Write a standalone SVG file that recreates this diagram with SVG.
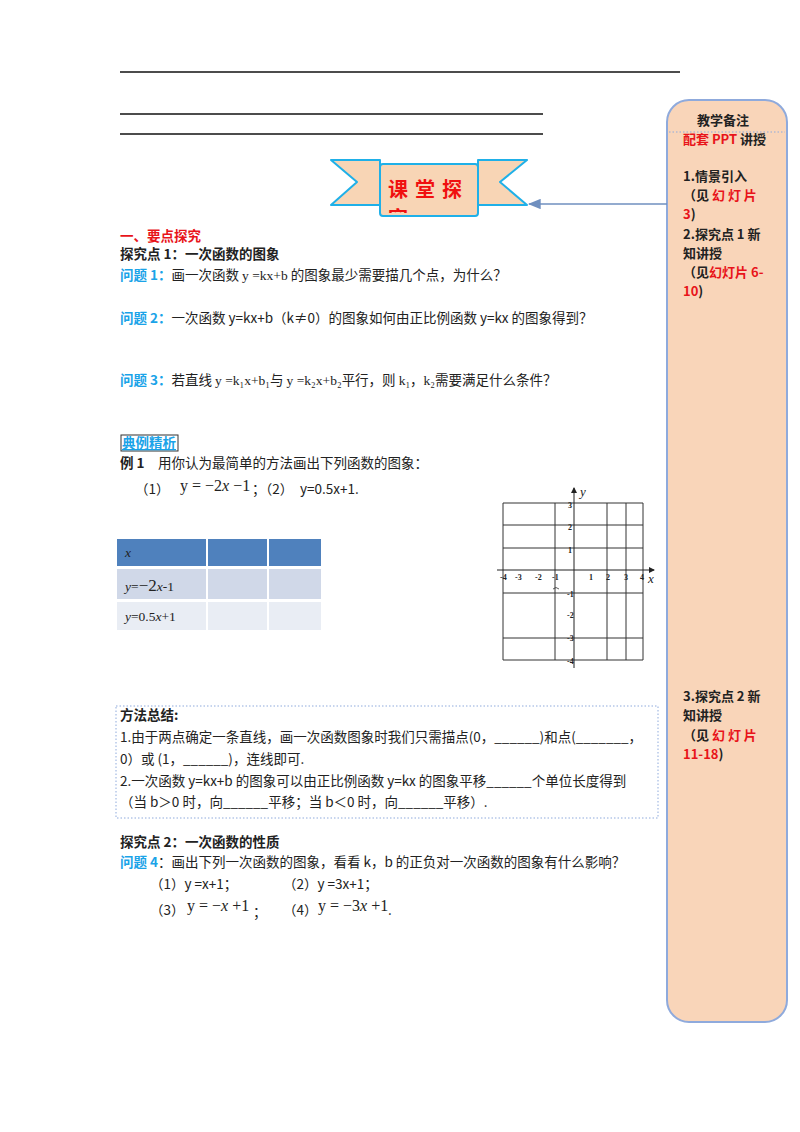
<svg xmlns="http://www.w3.org/2000/svg" width="800" height="1132" viewBox="0 0 800 1132">
<style>
text{font-family:"Noto Sans CJK SC","Liberation Sans",sans-serif;font-size:13.5px;fill:#222}
.b{font-weight:bold}
.blue{fill:#1aa3e8;font-weight:bold}
.red{fill:#e8141a}
.m{font-family:"Liberation Serif","Noto Sans CJK SC",serif}
.g{stroke:#333;stroke-width:1;fill:none}
.s{font-family:"Liberation Serif",serif;font-size:8px;font-weight:bold}
.sb{font-size:13px;font-weight:bold}
</style>
<defs>
<marker id="ah" markerWidth="10" markerHeight="8" refX="9" refY="4" orient="auto"><path d="M0,0 L10,4 L0,8z" fill="#6f8fbf"/></marker>
<marker id="ak" markerWidth="6" markerHeight="6" refX="5" refY="3" orient="auto"><path d="M0,0 L6,3 L0,6z" fill="#222"/></marker>
<clipPath id="cp"><rect x="381" y="165" width="96" height="48"/></clipPath>
</defs>
<g id="rules" stroke="#111" stroke-width="1.3">
<line x1="120" y1="72" x2="680" y2="72"/>
<line x1="120" y1="114" x2="543" y2="114"/>
<line x1="120" y1="134" x2="543" y2="134"/>
</g>
<g id="sidebar">
<rect x="667" y="100" width="120" height="922" rx="22" fill="#f9d5b9" stroke="#8faadc" stroke-width="2"/>
<line x1="669" y1="132" x2="785" y2="132" stroke="#8faadc" stroke-dasharray="1.5,2"/>
<text x="697" y="125" class="sb">教学备注</text>
<text x="683" y="144" class="sb"><tspan class="red">配套 PPT</tspan> 讲授</text>
<text x="683" y="181" class="sb">1.情景引入</text>
<text x="683" y="200" class="sb">（见 <tspan class="red">幻 灯 片</tspan></text>
<text x="683" y="219" class="sb"><tspan class="red">3</tspan>)</text>
<text x="683" y="239" class="sb">2.探究点 1 新</text>
<text x="683" y="258" class="sb">知讲授</text>
<text x="683" y="277" class="sb">（见<tspan class="red">幻灯片 6-</tspan></text>
<text x="683" y="296" class="sb"><tspan class="red">10</tspan>)</text>
<text x="683" y="701" class="sb">3.探究点 2 新</text>
<text x="683" y="720" class="sb">知讲授</text>
<text x="683" y="740" class="sb">（见 <tspan class="red">幻 灯 片</tspan></text>
<text x="683" y="759" class="sb"><tspan class="red">11-18</tspan>)</text>
</g>
<g id="banner">
<path d="M331,160 L380,160 L380,205 L331,205 L357,182z" fill="#f8d5b5" stroke="#1fb0e8" stroke-width="2" stroke-linejoin="round"/>
<path d="M527,160 L478,160 L478,205 L527,205 L500,182z" fill="#f8d5b5" stroke="#1fb0e8" stroke-width="2" stroke-linejoin="round"/>
<rect x="380" y="164" width="98" height="52" rx="3" fill="#f8d5b5" stroke="#1fb0e8" stroke-width="2"/>
<g clip-path="url(#cp)"><text x="388" y="197" style="font-size:20px;font-weight:bold;fill:#f01010;letter-spacing:7px">课堂探</text><text x="388" y="226" style="font-size:20px;font-weight:bold;fill:#f01010">究</text></g>
</g>
<g id="connectors"><line x1="667" y1="204" x2="529" y2="204" stroke="#6f8fbf" stroke-width="1.3" marker-end="url(#ah)"/></g>
<g id="main">
<text x="120" y="241" class="b red">一、要点探究</text>
<text x="120" y="259" class="b">探究点 1：一次函数的图象</text>
<text x="120" y="280"><tspan class="blue">问题 1：</tspan>画一次函数 <tspan class="m">y =kx+b</tspan> 的图象最少需要描几个点，为什么？</text>
<text x="120" y="323"><tspan class="blue">问题 2：</tspan>一次函数 y=kx+b（k≠0）的图象如何由正比例函数 y=kx 的图象得到？</text>
<text x="120" y="385"><tspan class="blue">问题 3：</tspan>若直线 <tspan class="m">y =k₁x+b₁</tspan>与 <tspan class="m">y =k₂x+b₂</tspan>平行，则 <tspan class="m">k₁，k₂</tspan>需要满足什么条件？</text>
<rect x="121" y="435" width="57" height="16" fill="none" stroke="#333"/>
<text x="122" y="448" style="fill:#1aa3e8;font-weight:bold;text-decoration:underline">典例精析</text>
<text x="120" y="468"><tspan class="b">例 1</tspan>　用你认为最简单的方法画出下列函数的图象：</text>
<text x="135" y="494">（1）</text>
<text x="180" y="491" class="m" style="font-size:16px">y = −2<tspan font-style="italic">x</tspan> −1</text>
<text x="252" y="494">；（2）　y=0.5x+1.</text>
</g>
<g id="table">
<rect x="117" y="539" width="89" height="27" fill="#4f81bd"/><rect x="208" y="539" width="59" height="27" fill="#4f81bd"/><rect x="269" y="539" width="52" height="27" fill="#4f81bd"/>
<rect x="117" y="569" width="89" height="30" fill="#d0d8e8"/><rect x="208" y="569" width="59" height="30" fill="#d0d8e8"/><rect x="269" y="569" width="52" height="30" fill="#d0d8e8"/>
<rect x="117" y="602" width="89" height="28" fill="#e9edf4"/><rect x="208" y="602" width="59" height="28" fill="#e9edf4"/><rect x="269" y="602" width="52" height="28" fill="#e9edf4"/>
<text x="125" y="557" class="m" font-style="italic" style="fill:#222">x</text>
<text x="125" y="591" class="m"><tspan font-style="italic">y</tspan>=<tspan style="font-size:17px">−2</tspan><tspan font-style="italic">x</tspan>-1</text>
<text x="125" y="621" class="m"><tspan font-style="italic">y</tspan>=0.5<tspan font-style="italic">x</tspan>+1</text>
</g>
<g id="grid">
<path class="g" d="M503,503 H643 M503,525 H643 M503,548 H643 M503,593 H643 M503,638 H643 M503,660 H643 M503,503 V660 M555,503 V660 M607,503 V660 M626,503 V660 M643,503 V660"/>
<line x1="497" y1="570" x2="654" y2="570" stroke="#222" marker-end="url(#ak)"/>
<line x1="574" y1="668" x2="574" y2="488" stroke="#222" marker-end="url(#ak)"/>
<text x="580" y="496" class="m" font-style="italic" style="font-size:13px">y</text>
<text x="648" y="583" class="m" font-style="italic" style="font-size:13px">x</text>
<text x="500" y="580" class="s">-4</text><text x="515" y="580" class="s">-3</text><text x="535" y="580" class="s">-2</text><text x="552" y="580" class="s">-1</text>
<text x="589" y="580" class="s">1</text><text x="606" y="580" class="s">2</text><text x="624" y="580" class="s">3</text><text x="640" y="580" class="s">4</text>
<text x="568" y="508" class="s">3</text><text x="568" y="530" class="s">2</text><text x="568" y="553" class="s">1</text>
<text x="567" y="597" class="s">-1</text><text x="567" y="618" class="s">-2</text><text x="567" y="641" class="s">-3</text><text x="567" y="664" class="s">-4</text>
<path d="M553,589 q3,-3 6,0" fill="none" stroke="#333" stroke-width="0.8"/>
</g>
<g id="summary">
<rect x="116" y="706" width="542" height="112" fill="none" stroke="#8faadc" stroke-dasharray="1.5,2"/>
<text x="120" y="720" class="b">方法总结:</text>
<text x="120" y="742">1.由于两点确定一条直线，画一次函数图象时我们只需描点(0，______)和点(_______，</text>
<text x="120" y="764">0）或 (1，______)，连线即可.</text>
<text x="120" y="786">2.一次函数 y=kx+b 的图象可以由正比例函数 y=kx 的图象平移______个单位长度得到</text>
<text x="120" y="807">（当 b＞0 时，向______平移；当 b＜0 时，向______平移）.</text>
</g>
<g id="part2">
<text x="120" y="847" class="b">探究点 2：一次函数的性质</text>
<text x="120" y="867"><tspan class="blue">问题 4</tspan>：画出下列一次函数的图象，看看 k，b 的正负对一次函数的图象有什么影响？</text>
<text x="150" y="889">（1）y  =x+1；</text>
<text x="283" y="889">（2）y  =3x+1；</text>
<text x="150" y="915">（3）</text>
<text x="187" y="911" class="m" style="font-size:16px">y = −<tspan font-style="italic">x</tspan> +1</text>
<text x="253" y="917">；</text>
<text x="283" y="915">（4）</text>
<text x="318" y="911" class="m" style="font-size:16px">y = −3<tspan font-style="italic">x</tspan> +1</text>
<text x="388" y="915">.</text>
</g>
</svg>
